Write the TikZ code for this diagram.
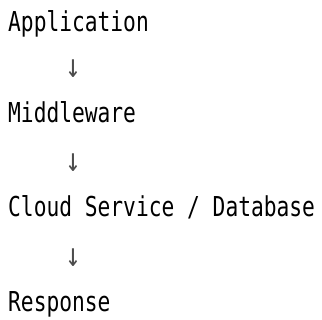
\documentclass[tikz,border=0pt]{standalone}
\usepackage{fontspec}
\setmonofont[FakeStretch=0.775]{DejaVu Sans Mono}
\begin{document}
\begin{tikzpicture}[x=1pt,y=1pt,
  lbl/.style={anchor=base west,inner sep=0pt,font=\fontsize{27.4}{30}\ttfamily,text=black},
  arr/.style={anchor=center,inner sep=0pt,font=\fontsize{33}{36}\ttfamily,text=black!70}]
\useasboundingbox (0,0) rectangle (322,320);
\node[lbl] (app) at (8,288) {Application};
\node[arr] (a1) at (73,251.5) {↓};
\node[lbl] (mid) at (8,197) {Middleware};
\node[arr] (a2) at (73,157) {↓};
\node[lbl] (cloud) at (8,103) {Cloud Service / Database};
\node[arr] (a3) at (73,62.5) {↓};
\node[lbl] (resp) at (8,8) {Response};
\end{tikzpicture}
\end{document}
